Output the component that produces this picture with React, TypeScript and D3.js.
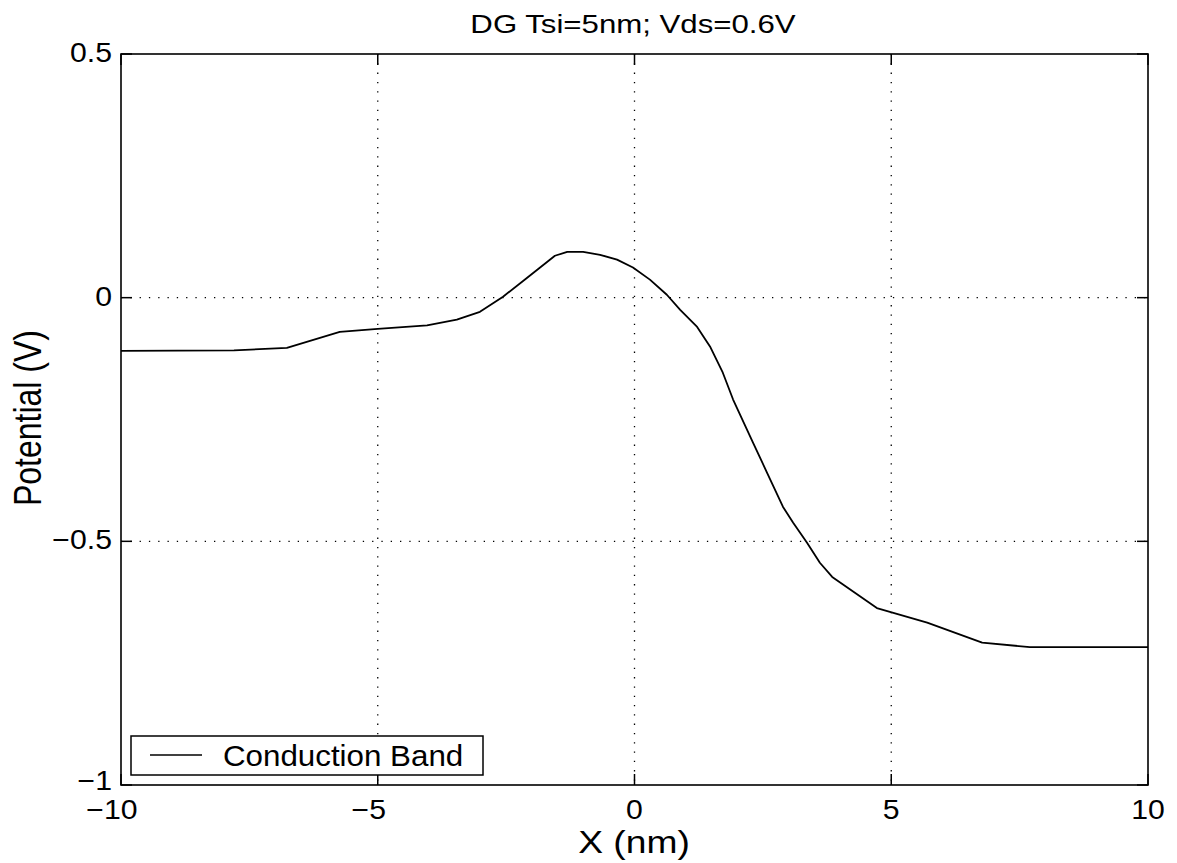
import React from "react";
import * as d3 from "d3";

const xValues = [-10, -7.8, -6.77, -5.74, -5.0, -4.04, -3.46, -3.01, -2.56, -2.09, -1.55, -1.31, -1.0, -0.67, -0.34, -0.03, 0.3, 0.63, 0.89, 1.22, 1.47, 1.72, 1.92, 2.31, 2.58, 2.89, 3.09, 3.36, 3.61, 3.85, 4.72, 5.7, 6.77, 7.7, 10];
const potential = [-0.109, -0.108, -0.103, -0.07, -0.064, -0.057, -0.045, -0.029, 0.002, 0.041, 0.086, 0.094, 0.094, 0.088, 0.078, 0.062, 0.037, 0.006, -0.025, -0.06, -0.1, -0.154, -0.209, -0.298, -0.359, -0.429, -0.462, -0.503, -0.544, -0.573, -0.637, -0.667, -0.708, -0.717, -0.717];
const xTicks = [-10, -5, 0, 5, 10];
const yTicks = [0.5, 0, -0.5, -1];
const gridX = [-5, 0, 5];
const gridY = [0, -0.5];
const title = "DG Tsi=5nm; Vds=0.6V";
const xLabel = "X (nm)";
const yLabel = "Potential (V)";
const seriesName = "Conduction Band";

const W = 1177, H = 863;
const L = 121, R = 1148, T = 54, B = 785;
const FONT = "'Liberation Sans', Arial, Helvetica, sans-serif";

const fmt = (v: number) => (v < 0 ? "\u2212" + String(Math.abs(v)) : String(v));

export default function App() {
  const x = d3.scaleLinear().domain([-10, 10]).range([L, R]);
  const y = d3.scaleLinear().domain([-1, 0.5]).range([B, T]);
  const data = xValues.map((v, i) => [v, potential[i]] as [number, number]);
  const line = d3.line<[number, number]>().x((d) => x(d[0])).y((d) => y(d[1]));
  const tl = 11;
  const sx = 1.12;
  return (
    <svg width={W} height={H} style={{ position: "absolute", left: 0, top: 0, background: "#fff" }} fontFamily={FONT}>
      <rect x={0} y={0} width={W} height={H} fill="#fff" />
      {gridX.map((g) => (
        <line key={"gx" + g} x1={x(g)} x2={x(g)} y1={T} y2={B} stroke="#000" strokeWidth={1.3} strokeDasharray="1.3,8" />
      ))}
      {gridY.map((g) => (
        <line key={"gy" + g} x1={L} x2={R} y1={y(g)} y2={y(g)} stroke="#000" strokeWidth={1.3} strokeDasharray="1.3,8" />
      ))}
      {xTicks.map((t) => (
        <g key={"xt" + t}>
          <line x1={x(t)} x2={x(t)} y1={B} y2={B - tl} stroke="#000" strokeWidth={1.5} />
          <line x1={x(t)} x2={x(t)} y1={T} y2={T + tl} stroke="#000" strokeWidth={1.5} />
          <text
            transform={`translate(${x(t) - (t < 0 ? 9 : 0)},819) scale(${sx},1)`}
            textAnchor="middle"
            fontSize={27}
            fill="#000"
          >
            {fmt(t)}
          </text>
        </g>
      ))}
      {yTicks.map((t) => (
        <g key={"yt" + t}>
          <line x1={L} x2={L + tl} y1={y(t)} y2={y(t)} stroke="#000" strokeWidth={1.5} />
          <line x1={R} x2={R - tl} y1={y(t)} y2={y(t)} stroke="#000" strokeWidth={1.5} />
          <text
            transform={`translate(112,${y(t) + (t === -1 ? 5 : 8)}) scale(${sx},1)`}
            textAnchor="end"
            fontSize={27}
            fill="#000"
          >
            {fmt(t)}
          </text>
        </g>
      ))}
      <rect x={L} y={T} width={R - L} height={B - T} fill="none" stroke="#000" strokeWidth={1.6} />
      <path d={line(data) || ""} fill="none" stroke="#000" strokeWidth={1.8} strokeLinejoin="round" />
      <g>
        <rect x={131} y={736} width={352} height={39} fill="#fff" stroke="#000" strokeWidth={1.5} />
        <line x1={150} x2={202} y1={755} y2={755} stroke="#000" strokeWidth={1.6} />
        <text transform={`translate(223,766) scale(1.08,1)`} fontSize={29} fill="#000">
          {seriesName}
        </text>
      </g>
      <text transform={`translate(633,33) scale(1.2,1)`} textAnchor="middle" fontSize={26} fill="#000">
        {title}
      </text>
      <text transform={`translate(634,853) scale(1.2,1)`} textAnchor="middle" fontSize={31} fill="#000">
        {xLabel}
      </text>
      <text transform={`translate(41,418) rotate(-90) scale(1,1.2)`} textAnchor="middle" fontSize={32} fill="#000">
        {yLabel}
      </text>
    </svg>
  );
}
